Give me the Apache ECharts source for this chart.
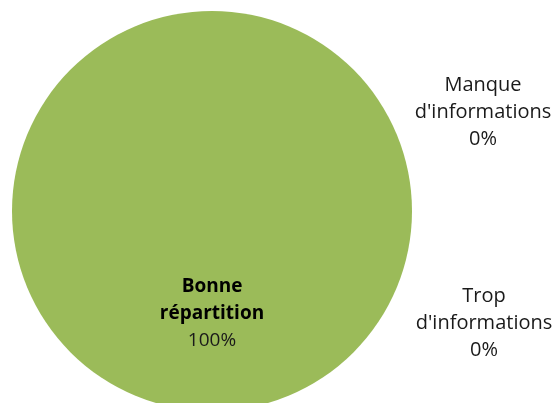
<!DOCTYPE html>
<html>
<head>
<meta charset="utf-8">
<script src="https://cdn.jsdelivr.net/npm/echarts@6/dist/echarts.min.js"></script>
<style>
html,body{margin:0;padding:0;background:#fff;}
#chart{width:553px;height:403px;}
</style>
</head>
<body>
<div id="chart"></div>
<script>
const categories = ["Bonne répartition", "Trop d'informations", "Manque d'informations"];
const values = [100, 0, 0];
const sliceColors = ["#9BBB59", "#C0504D", "#4F81BD"];

const chart = echarts.init(document.getElementById('chart'), null, {renderer: 'canvas'});
const FONT = '"Open Sans", "Noto Sans", sans-serif';

const data = categories.map((c, i) => ({
  name: c,
  value: values[i],
  itemStyle: {color: sliceColors[i]}
}));

chart.setOption({
  animation: false,
  backgroundColor: '#ffffff',
  series: [{
    type: 'pie',
    center: [212, 211],
    radius: [0, 200],
    startAngle: 90,
    clockwise: true,
    avoidLabelOverlap: false,
    stillShowZeroSum: true,
    minShowLabelAngle: 0,
    emphasis: {disabled: true},
    itemStyle: {borderWidth: 0},
    labelLine: {show: false},
    label: {
      show: true,
      position: 'inside',
      fontFamily: FONT,
      fontSize: 19,
      lineHeight: 27,
      color: '#1a1a1a',
      align: 'center',
      formatter: function (p) {
        const parts = p.name.split(' ');
        if (p.dataIndex === 0) {
          return parts.map(s => '{b|' + s + '}').join('\n') + '\n{n|' + Math.round(p.percent) + '%}';
        }
        return parts.map(s => '{o|' + s + '}').join('\n') + '\n{o|' + Math.round(p.percent) + '%}';
      },
      rich: {
        b: {fontFamily: FONT, fontSize: 19, lineHeight: 27, fontWeight: 'bold', color: '#000000'},
        n: {fontFamily: FONT, fontSize: 19, lineHeight: 27, color: '#1a1a1a'},
        o: {fontFamily: FONT, fontSize: 20, lineHeight: 27, color: '#1a1a1a'}
      }
    },
    labelLayout: function (params) {
      if (params.dataIndex === 2) {
        return {x: 483, y: 112, align: 'center', verticalAlign: 'middle'};
      }
      if (params.dataIndex === 1) {
        return {x: 484, y: 323, align: 'center', verticalAlign: 'middle'};
      }
      return {};
    },
    data: data
  }]
});
</script>
</body>
</html>
